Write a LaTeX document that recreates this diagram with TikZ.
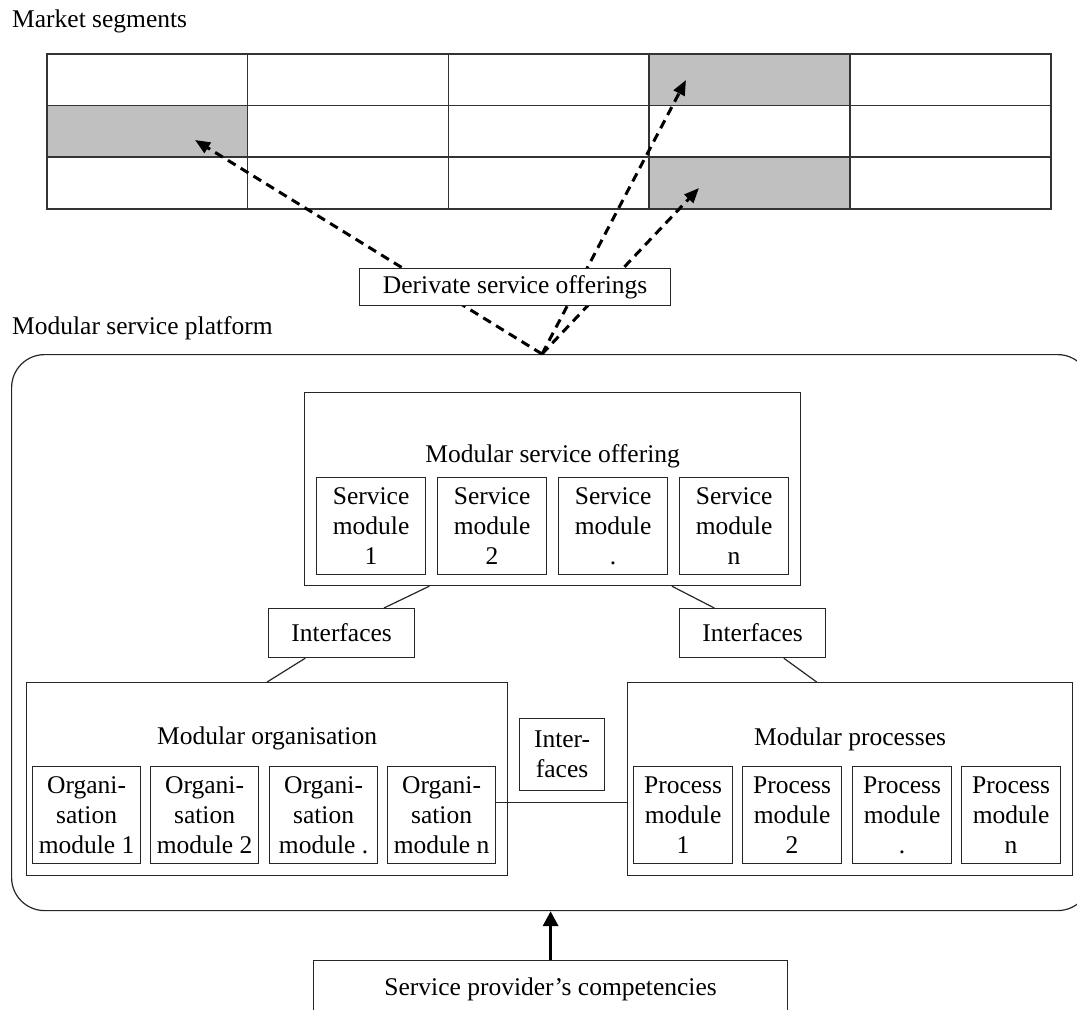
\documentclass[tikz,border=0pt]{standalone}
\usepackage{fontspec}
\setmainfont{Liberation Serif}
\usetikzlibrary{arrows.meta,calc}
\definecolor{cellgray}{HTML}{C0C0C0}
\begin{document}
\begin{tikzpicture}[x=1pt,y=-1pt,
  every node/.style={font=\fontsize{25.5}{30}\selectfont},
  sz/.style 2 args={minimum width=#1pt, minimum height=#2pt},
  bx/.style={draw=black!85, line width=1.2pt, fill=white, inner sep=0pt,
             anchor=north west, align=center},
  cell/.style={draw=black!80, line width=1.6pt, inner sep=0pt, anchor=north west,
               minimum width=200.8pt, minimum height=51.67pt},
  link/.style={draw=black!85, line width=1.2pt},
  offer/.style={line width=3pt, dash pattern=on 9pt off 6pt,
                -{Triangle[length=15pt,width=12pt]}},
  lbl/.style={anchor=base west, inner sep=0pt},
  ttl/.style={anchor=base, inner sep=0pt}]
\useasboundingbox (0,0) rectangle (1077,1010);

% ---------- market segments grid ----------
\node[lbl] (mkt) at (12,27) {Market segments};
\foreach \r in {0,1,2}{
  \foreach \c in {0,...,4}{
    \node[cell] (m\r\c) at ({46+200.8*\c},{53+51.67*\r}) {};
  }
}
\foreach \n in {m03,m10,m23}
  \node[cell, fill=cellgray] (\n s) at (\n.north west) {};

% ---------- modular service platform ----------
\node[lbl] (plt) at (12,334) {Modular service platform};
\node[draw=black!85, line width=1.2pt, rounded corners=33pt, inner sep=0pt,
      anchor=north west, sz={1079}{556}] (plat) at (11,354) {};

% derivate offerings pointing into the segments
\coordinate (apex) at (542,354);
\coordinate (t1) at (195,140);
\coordinate (t2) at (686,80);
\coordinate (t3) at (699,188);
\draw[offer] (apex) -- (t1);
\draw[offer] (apex) -- (t2);
\draw[offer] (apex) -- (t3);
\node[bx, sz={311}{37}] (der) at (359,268) {Derivate service offerings};

% service offering
\node[bx, sz={496}{193}] (so) at (304,392) {};
\node[ttl] (sot) at ($(so.north)+(0,70)$) {Modular service offering};
\node[bx, sz={109}{97}] (sm1) at (316,477) {Service\\module\\1};
\node[bx, sz={109}{97}] (sm2) at (437,477) {Service\\module\\2};
\node[bx, sz={109}{97}] (sm3) at (558,477) {Service\\module\\.};
\node[bx, sz={109}{97}] (sm4) at (679,477) {Service\\module\\n};

% interfaces
\node[bx, sz={146}{49}] (ifl) at (268,608) {Interfaces};
\node[bx, sz={146}{49}] (ifr) at (679,608) {Interfaces};
\node[bx, sz={85}{72}] (ifm) at (519,718) {Inter-\\faces};

% organisation
\node[bx, sz={481}{193}] (org) at (26,682) {};
\node[ttl] (orgt) at ($(org.north)+(0,62)$) {Modular organisation};
\node[bx, sz={108}{97}] (om1) at (32,766) {Organi-\\sation\\module 1};
\node[bx, sz={108}{97}] (om2) at (150,766) {Organi-\\sation\\module 2};
\node[bx, sz={108}{97}] (om3) at (269,766) {Organi-\\sation\\module .};
\node[bx, sz={108}{97}] (om4) at (387,766) {Organi-\\sation\\module n};

% processes
\node[bx, sz={445}{193}] (proc) at (627,682) {};
\node[ttl] (proct) at ($(proc.north)+(0,63)$) {Modular processes};
\node[bx, sz={99}{97}] (pm1) at (633,766) {Process\\module\\1};
\node[bx, sz={99}{97}] (pm2) at (742,766) {Process\\module\\2};
\node[bx, sz={99}{97}] (pm3) at (852,766) {Process\\module\\.};
\node[bx, sz={99}{97}] (pm4) at (961,766) {Process\\module\\n};

% links between the building blocks
\draw[link] ($(so.south west)!0.252!(so.south east)$) -- ($(ifl.north west)!0.788!(ifl.north east)$);
\draw[link] ($(so.south west)!0.740!(so.south east)$) -- ($(ifr.north west)!0.240!(ifr.north east)$);
\draw[link] ($(ifl.south west)!0.253!(ifl.south east)$) -- (org.north);
\draw[link] ($(ifr.south west)!0.712!(ifr.south east)$) -- ($(proc.north west)!0.425!(proc.north east)$);
\coordinate (lk) at ($(om4.north east)!0.371!(om4.south east)$);
\draw[link] (lk) -- (lk -| proc.west);

% competencies feeding the platform
\node[bx, sz={474}{58}] (comp) at (313,960) {Service provider’s competencies};
\draw[line width=3.5pt, -{Triangle[length=15pt,width=15pt]}]
  (comp.north) -- (comp.north |- plat.south);
\end{tikzpicture}
\end{document}
